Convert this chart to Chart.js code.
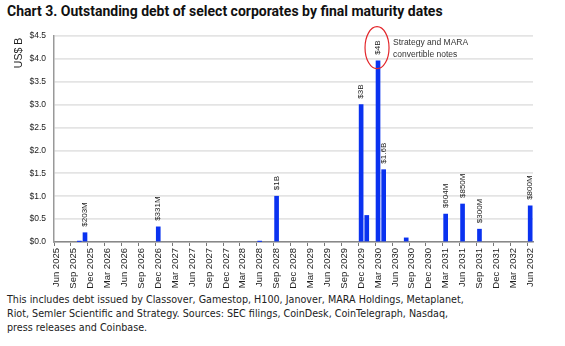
<!DOCTYPE html>
<html>
<head>
<meta charset="utf-8">
<script src="https://cdn.jsdelivr.net/npm/chart.js@4.4.1/dist/chart.umd.min.js"></script>
<style>
  body { margin: 0; background: #fff; width: 565px; height: 346px; position: relative; overflow: hidden; }
  #titulo { position: absolute; left: 7px; top: 4px; font: 700 14px Roboto, sans-serif; line-height: 14px; color: #111; white-space: nowrap; }
  #caja { position: absolute; left: 0; top: 0; width: 565px; height: 290px; }
  #nota { position: absolute; left: 7px; top: 293px; font: 9.6px "DejaVu Sans", sans-serif; line-height: 14px; color: #222; white-space: nowrap; }
</style>
</head>
<body>
<div id="titulo">Chart 3. Outstanding debt of select corporates by final maturity dates</div>
<div id="caja"><canvas id="grafico"></canvas></div>
<div id="nota">This includes debt issued by Classover, Gamestop, H100, Janover, MARA Holdings, Metaplanet,<br>Riot, Semler Scientific and Strategy. Sources: SEC filings, CoinDesk, CoinTelegraph, Nasdaq,<br>press releases and Coinbase.</div>
<script>
// Eje mensual: Jun 2025 -> Jun 2032
const nombresMes = ["Jan", "Feb", "Mar", "Apr", "May", "Jun", "Jul", "Aug", "Sep", "Oct", "Nov", "Dec"];
const meses = [];
for (let k = 0; k <= 84; k++) {
  const t = 2025 * 12 + 5 + k;
  meses.push(nombresMes[t % 12] + " " + Math.floor(t / 12));
}

// Vencimientos (US$ B)
const fechasVencimiento = ["Oct 2025", "Nov 2025", "Dec 2026", "Jun 2028", "Sep 2028", "Dec 2029", "Jan 2030",
  "Mar 2030", "Apr 2030", "Aug 2030", "Mar 2031", "Jun 2031", "Sep 2031", "Jun 2032"];
const deuda = [0.01, 0.203, 0.331, 0.01, 1.0, 3.0, 0.58, 3.96, 1.58, 0.09, 0.61, 0.83, 0.28, 0.79];
const etiquetas = ["", "$203M", "$331M", "", "$1B", "$3B", "", "$4B", "$1.6B", "", "$604M", "$850M", "$300M", "$800M"];
const ticksY = [0, 0.5, 1, 1.5, 2, 2.5, 3, 3.5, 4, 4.5];
const tituloY = "US$ B";
const notaAnotacion = ["Strategy and MARA", "convertible notes"];
const fechaAnotada = "Mar 2030";

const valores = meses.map(m => {
  const i = fechasVencimiento.indexOf(m);
  return i >= 0 ? deuda[i] : null;
});

const fuente = '"Liberation Sans", Arial, sans-serif';

// etiquetas giradas encima de las barras + óvalo rojo + título del eje Y
const etiquetasBarras = {
  id: "etiquetasBarras",
  afterDatasetsDraw(chart) {
    const ctx = chart.ctx;
    const barras = chart.getDatasetMeta(0).data;
    ctx.save();
    ctx.font = "8px " + fuente;
    ctx.fillStyle = "#222";
    ctx.textAlign = "left";
    ctx.textBaseline = "middle";
    barras.forEach((b, i) => {
      const idx = fechasVencimiento.indexOf(meses[i]);
      if (idx < 0 || !etiquetas[idx]) return;
      ctx.save();
      ctx.translate(b.x, b.y - 6);
      ctx.rotate(-Math.PI / 2);
      ctx.fillText(etiquetas[idx], 0, 0);
      ctx.restore();
    });

    const b = barras[meses.indexOf(fechaAnotada)];
    const cy = b.y - 13;
    ctx.strokeStyle = "#e3262b";
    ctx.lineWidth = 1.2;
    ctx.beginPath();
    ctx.ellipse(b.x - 1, cy, 12, 21, 0, 0, Math.PI * 2);
    ctx.stroke();

    ctx.font = "8.5px " + fuente;
    ctx.fillStyle = "#333";
    ctx.fillText(notaAnotacion[0], b.x + 15, chart.scales.y.getPixelForValue(4.35));
    ctx.fillText(notaAnotacion[1], b.x + 15, chart.scales.y.getPixelForValue(4.1));

    // título del eje Y arriba a la izquierda
    ctx.font = "10.5px " + fuente;
    ctx.fillStyle = "#222";
    ctx.textAlign = "center";
    ctx.translate(19, chart.chartArea.top + 17);
    ctx.rotate(-Math.PI / 2);
    ctx.fillText(tituloY, 0, 0);
    ctx.restore();
  }
};

new Chart(document.getElementById("grafico"), {
  type: "bar",
  data: {
    labels: meses,
    datasets: [{
      data: valores,
      backgroundColor: "#0a32f0",
      barThickness: 4,
      categoryPercentage: 1
    }]
  },
  options: {
    responsive: true,
    maintainAspectRatio: false,
    animation: false,
    layout: { padding: { top: 36, right: 32, left: 0, bottom: 0 } },
    plugins: { legend: { display: false }, tooltip: { enabled: false } },
    scales: {
      x: {
        offset: true,
        afterFit: s => { s.height = 48; },
        grid: {
          offset: true,
          drawOnChartArea: false,
          tickLength: 4,
          tickColor: c => (c.index % 3 === 0 ? "#777" : "transparent")
        },
        border: { color: "#888", width: 1.5 },
        ticks: {
          autoSkip: false,
          maxRotation: 90,
          minRotation: 90,
          padding: 2,
          color: "#222",
          font: { family: fuente, size: 9.5 },
          callback: (v, i) => (i % 3 === 0 ? meses[i] : "")
        }
      },
      y: {
        min: 0,
        max: 4.5,
        afterFit: s => { s.width = 54; },
        afterBuildTicks: s => { s.ticks = ticksY.map(v => ({ value: v })); },
        grid: { color: "#e4e4e4", lineWidth: 1.8, drawTicks: false },
        border: { color: "#999", width: 1.5 },
        ticks: {
          padding: 8,
          color: "#222",
          font: { family: fuente, size: 8.5 },
          callback: v => "$" + v.toFixed(1)
        }
      }
    }
  },
  plugins: [etiquetasBarras]
});
</script>
</body>
</html>
